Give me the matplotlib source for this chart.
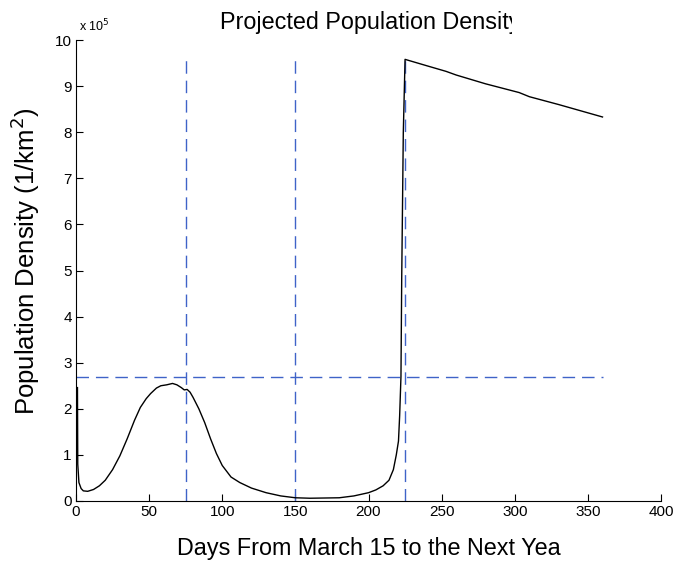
import matplotlib
matplotlib.use("Agg")
import matplotlib.pyplot as plt
from matplotlib.transforms import Bbox, TransformedBbox

plt.rcParams['font.family'] = ['Liberation Sans', 'DejaVu Sans']

# Projected population density (units of 1e5 per km^2)
days = [1, 1.2, 2, 3.5, 5, 8, 12, 16, 20, 25, 30, 35, 40, 44, 48, 51, 55, 58, 62,
        66, 69, 72, 74, 76, 78, 80, 84, 88, 92, 96, 100, 106, 112, 120, 130,
        140, 150, 160, 170, 180, 190, 200, 205, 210, 214, 217, 219, 220.5,
        221.3, 222.2, 222.7, 223.8, 225, 240, 253, 260, 280, 303, 310, 330, 360]
density_e5 = [2.46, 0.8, 0.4, 0.27, 0.22, 0.21, 0.25, 0.33, 0.45, 0.68, 0.98,
              1.35, 1.75, 2.03, 2.22, 2.33, 2.45, 2.50, 2.52, 2.55, 2.52, 2.46,
              2.41, 2.42, 2.36, 2.25, 2.0, 1.7, 1.35, 1.03, 0.77, 0.52, 0.40,
              0.28, 0.18, 0.11, 0.07, 0.06, 0.065, 0.07, 0.11, 0.18, 0.24, 0.33,
              0.45, 0.68, 1.0, 1.3, 1.85, 2.7, 4.8, 8.0, 9.58, 9.44, 9.32, 9.24,
              9.05, 8.86, 8.77, 8.6, 8.33]
density = [v * 1e5 for v in density_e5]

# Reference lines
vlines_x = [75, 150, 225]
vline_top = 9.6e5
hline_y = 2.7e5
hline_xmax = 360

xticks = [0, 50, 100, 150, 200, 250, 300, 350, 400]
yticks_e5 = list(range(0, 11))

fig = plt.figure(figsize=(6.73, 5.61), dpi=100)
ax = fig.add_axes([76/673, 1 - 501/561, (661-76)/673, (501-40)/561])

dash_color = '#3f63c8'
for xv in vlines_x:
    ax.plot([xv, xv], [0, vline_top], color=dash_color, lw=1.0, dashes=(9, 5))
ax.plot([0, hline_xmax], [hline_y, hline_y], color=dash_color, lw=1.0, dashes=(9, 5))
ax.plot(days, density, color='black', lw=1.0)

ax.set_xlim(0, 400)
ax.set_ylim(0, 1e6)
ax.set_xticks(xticks)
ax.set_xticklabels([str(t) for t in xticks])
ax.set_yticks([t * 1e5 for t in yticks_e5])
ax.set_yticklabels([str(t) for t in yticks_e5])
ax.spines['top'].set_visible(False)
ax.spines['right'].set_visible(False)
ax.tick_params(direction='in', length=5, width=0.8, labelsize=11, pad=3)

ax.set_xlabel('Days From March 15 to the Next Yea', fontsize=16.8, labelpad=13)
ax.set_ylabel('Population Density (1/km$^2$)', fontsize=18.5)
ax.yaxis.set_label_coords(-0.058, 0.52)

ax.text(0.005, 1.012, r'x 10$^5$', transform=ax.transAxes, fontsize=9,
        ha='left', va='bottom')

t = fig.text(370/673, 1 - 22/561, 'Projected Population Density', fontsize=16.8,
             ha='center', va='center')
t.set_clip_box(TransformedBbox(Bbox([[0, 0], [512/673, 1]]), fig.transFigure))
t.set_clip_on(True)

fig.savefig('out.png', dpi=100)
